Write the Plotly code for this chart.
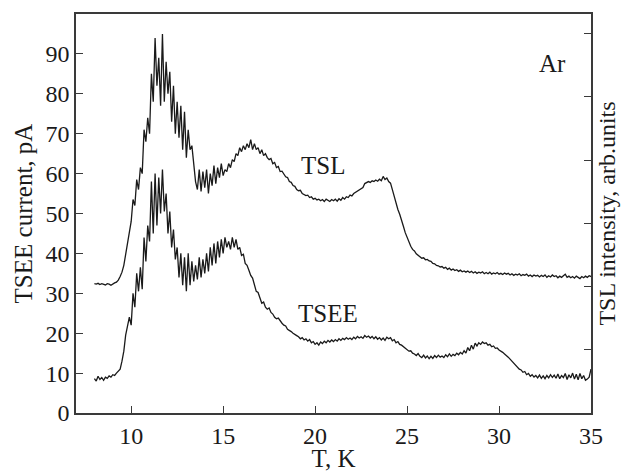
import plotly.graph_objects as go

# Temperature grid start/step (K)
T_START = 8.0
T_STEP = 0.1

# TSL curve (plotted on left-axis scale), T = 8.0 ... 35.0
TSL = [
    32.4, 32.3, 32.5, 32.2, 32.4, 32.3, 32.1, 32.4, 32.3, 32.0,   # 8.0
    32.4, 32.6, 32.8, 33.3, 34.2, 35.3, 37.0, 39.8, 42.5, 45.5,   # 9.0
    48.0, 53.5, 52.0, 58.5, 56.0, 61.5, 60.0, 71.0, 68.0, 74.0,   # 10.0
    70.0, 85.0, 78.0, 94.0, 82.0, 89.0, 77.0, 95.0, 78.0, 88.0,   # 11.0
    80.0, 85.5, 73.0, 82.0, 70.0, 78.0, 69.0, 77.0, 66.0, 75.5,   # 12.0
    64.0, 71.0, 66.0, 67.0, 61.5, 58.0, 56.0, 61.0, 55.5, 60.5,   # 13.0
    56.5, 61.0, 55.0, 60.0, 57.0, 62.0, 57.5, 61.5, 59.0, 62.5,   # 14.0
    59.5, 61.0, 60.5, 62.5, 61.5, 63.5, 63.0, 65.0, 64.5, 66.5,   # 15.0
    65.5, 67.0, 66.0, 67.5, 66.5, 68.5, 66.0, 67.5, 66.0, 66.5,   # 16.0
    65.0, 66.0, 64.5, 65.0, 64.0, 63.5, 63.8, 62.5, 62.8, 61.5,   # 17.0
    61.8, 60.5, 60.6, 60.0, 59.2, 59.0, 58.0, 57.8, 57.0, 56.8,   # 18.0
    56.0, 55.7, 55.8, 55.0, 54.8, 54.5, 54.6, 54.0, 54.2, 53.6,   # 19.0
    53.8, 53.4, 53.6, 53.2, 53.5, 53.0, 53.6, 53.3, 53.0, 53.5,   # 20.0
    53.2, 53.6, 53.1, 53.7, 53.3, 54.0, 53.6, 54.2, 54.0, 54.6,   # 21.0
    54.4, 55.0, 55.3, 55.4, 55.9, 56.2, 56.5, 57.5, 57.8, 58.0,   # 22.0
    57.8, 58.2, 58.0, 58.4, 58.1, 58.6, 58.2, 59.3, 58.5, 58.9,   # 23.0
    58.0, 57.6, 56.0, 54.2, 52.5, 51.0, 49.8, 48.5, 46.8, 45.2,   # 24.0
    44.0, 42.9, 41.8, 41.0, 40.6, 39.9, 39.6, 39.2, 38.8, 38.9,   # 25.0
    38.4, 38.5, 38.1, 38.0, 37.5, 37.4, 37.0, 36.9, 36.6, 36.7,   # 26.0
    36.3, 36.5, 36.0, 36.3, 35.8, 36.1, 35.7, 35.9, 35.5, 35.8,   # 27.0
    35.4, 35.6, 35.3, 35.6, 35.2, 35.5, 35.1, 35.4, 35.0, 35.3,   # 28.0
    35.1, 35.4, 34.9, 35.2, 34.9, 35.3, 34.8, 35.1, 34.9, 35.2,   # 29.0
    34.8, 35.0, 34.7, 35.1, 34.8, 35.0, 34.6, 34.9, 34.5, 34.8,   # 30.0
    34.6, 34.9, 34.4, 34.7, 34.5, 34.8, 34.3, 34.6, 34.2, 34.6,   # 31.0
    34.3, 34.5, 34.1, 34.5, 34.2, 34.6, 34.0, 34.4, 34.1, 34.6,   # 32.0
    34.2, 34.4, 33.9, 34.3, 34.0, 34.4, 34.8, 34.0, 34.3, 33.9,   # 33.0
    34.2, 33.8, 34.3, 34.0, 33.7, 34.2, 33.9, 34.3, 34.0, 34.4,   # 34.0
    34.2,                                                         # 35.0
]

# TSEE current, pA, T = 8.0 ... 35.0
TSEE = [
    8.6, 8.0, 9.2, 8.4, 8.9, 8.2, 9.0, 8.7, 9.3, 9.0,             # 8.0
    9.6, 9.4, 10.0, 10.4, 11.0, 13.0, 15.5, 19.5, 21.5, 24.0,     # 9.0
    22.0, 30.0, 26.5, 35.0, 30.5, 36.5, 31.0, 44.0, 38.0, 47.0,   # 10.0
    43.0, 58.0, 45.0, 60.0, 47.0, 59.0, 50.0, 61.0, 50.5, 55.0,   # 11.0
    45.0, 50.5, 41.5, 46.0, 38.5, 41.5, 34.0, 40.0, 32.0, 39.0,   # 12.0
    30.5, 40.0, 32.0, 38.0, 33.0, 37.0, 33.5, 39.0, 34.0, 38.5,   # 13.0
    35.0, 40.0, 35.5, 41.5, 37.0, 42.5, 37.5, 43.0, 39.0, 43.5,   # 14.0
    40.0, 44.0, 41.5, 43.0, 41.0, 44.0, 41.5, 43.5, 41.0, 41.5,   # 15.0
    39.5, 39.8, 37.5, 37.0, 35.8, 34.5, 33.8, 32.0, 30.5, 30.2,   # 16.0
    29.0, 27.5, 27.8, 26.5, 26.0, 26.3, 25.2, 24.8, 24.0, 23.6,   # 17.0
    23.8, 23.0, 22.5, 22.0, 21.8, 21.0, 20.8, 20.4, 20.0, 19.6,   # 18.0
    19.4, 19.1, 18.6, 18.9, 18.3, 18.6, 18.0, 18.4, 17.6, 17.9,   # 19.0
    17.2, 17.6, 17.0, 17.8, 17.4, 18.0, 17.6, 18.2, 17.8, 18.3,   # 20.0
    17.9, 18.4, 18.0, 18.6, 18.2, 18.7, 18.4, 18.9, 18.5, 18.8,   # 21.0
    18.4, 19.0, 18.6, 19.2, 18.8, 19.1, 18.7, 19.4, 19.0, 19.3,   # 22.0
    18.8, 19.2, 18.6, 19.1, 18.5, 18.9, 18.3, 18.8, 18.2, 19.0,   # 23.0
    18.6, 18.9, 18.1, 18.4, 17.6, 17.9, 17.2, 17.0, 16.6, 16.2,   # 24.0
    16.0, 15.5, 15.6, 15.0, 14.8, 14.4, 14.9, 14.2, 13.9, 14.5,   # 25.0
    13.8, 14.3, 13.6, 14.2, 13.7, 14.4, 13.9, 14.5, 14.0, 14.3,   # 26.0
    13.9, 14.6, 14.1, 14.8, 14.2, 14.7, 14.4, 15.0, 14.6, 15.2,   # 27.0
    14.8, 15.6, 15.0, 16.4, 15.6, 17.0, 16.0, 17.5, 16.8, 17.6,   # 28.0
    17.2, 17.8, 17.4, 17.6, 17.0, 17.2, 16.6, 16.8, 16.2, 16.3,   # 29.0
    15.8, 15.6, 15.2, 14.8, 14.5, 14.0, 13.5, 13.0, 12.4, 12.0,   # 30.0
    11.6, 11.0, 10.8, 10.2, 10.4, 9.6, 9.9, 9.2, 9.6, 9.0,        # 31.0
    9.4, 8.8, 9.5, 8.7, 9.3, 8.6, 9.4, 8.8, 9.6, 8.9,             # 32.0
    9.5, 8.7, 9.8, 8.6, 9.4, 8.9, 9.9, 8.4, 9.6, 8.8,             # 33.0
    10.0, 8.5, 9.7, 8.3, 9.9, 8.6, 9.4, 8.2, 8.5, 9.0,            # 34.0
    11.0,                                                         # 35.0
]

T_TSL = [round(T_START + T_STEP * i, 2) for i in range(len(TSL))]
T_TSEE = [round(T_START + T_STEP * i, 2) for i in range(len(TSEE))]

X_TICKS = [10, 15, 20, 25, 30, 35]
Y_TICKS = [0, 10, 20, 30, 40, 50, 60, 70, 80, 90]
Y2_TICKS = [0, 1, 2, 3, 4, 5, 6]

LABELS = [("Ar", 32.9, 87.7), ("TSL", 20.45, 62.0), ("TSEE", 20.7, 25.0)]

FONT = "Liberation Serif"
INK = "#1a1a1a"
AXC = "#3a3a3a"

fig = go.Figure()
fig.add_trace(go.Scatter(x=T_TSL, y=TSL, mode="lines",
                         line=dict(color=INK, width=1.3), showlegend=False))
fig.add_trace(go.Scatter(x=T_TSEE, y=TSEE, mode="lines",
                         line=dict(color=INK, width=1.3), showlegend=False))
# invisible trace to activate the right axis
fig.add_trace(go.Scatter(x=[None], y=[None], yaxis="y2", showlegend=False))

for txt, x, y in LABELS:
    fig.add_annotation(x=x, y=y, text=txt, showarrow=False,
                       font=dict(family=FONT, size=25, color=INK))

fig.update_layout(
    width=623, height=472,
    margin=dict(l=76, r=32, t=14, b=59),
    paper_bgcolor="white", plot_bgcolor="white",
    font=dict(family=FONT, size=24, color=INK),
    xaxis=dict(range=[7, 35], tickvals=X_TICKS, ticks="inside", ticklen=7,
               tickwidth=1.2, tickcolor=AXC, showline=True, linecolor=AXC,
               linewidth=1.5, mirror=True, showgrid=False, zeroline=False,
               automargin=False,
               title=dict(text="T, K", standoff=2, font=dict(size=25)),
               tickfont=dict(size=24)),
    yaxis=dict(range=[0, 100], tickvals=Y_TICKS, ticks="inside", ticklen=7,
               tickwidth=1.2, tickcolor=AXC, showline=True, linecolor=AXC,
               linewidth=1.5, mirror=True, showgrid=False, zeroline=False,
               automargin=False,
               title=dict(text="TSEE current, pA", standoff=6, font=dict(size=25)),
               tickfont=dict(size=24)),
    yaxis2=dict(range=[0, 6.31], tickvals=Y2_TICKS, overlaying="y", side="right",
                ticks="inside", ticklen=7, tickwidth=1.2, tickcolor=AXC,
                showticklabels=False, showline=True, linecolor=AXC, linewidth=1.5,
                showgrid=False, zeroline=False, automargin=False,
                title=dict(text="TSL intensity, arb.units", standoff=6,
                           font=dict(size=24))),
)

fig.write_html("out.html", config={"displayModeBar": False},
               post_script="document.body.style.margin='0';")
